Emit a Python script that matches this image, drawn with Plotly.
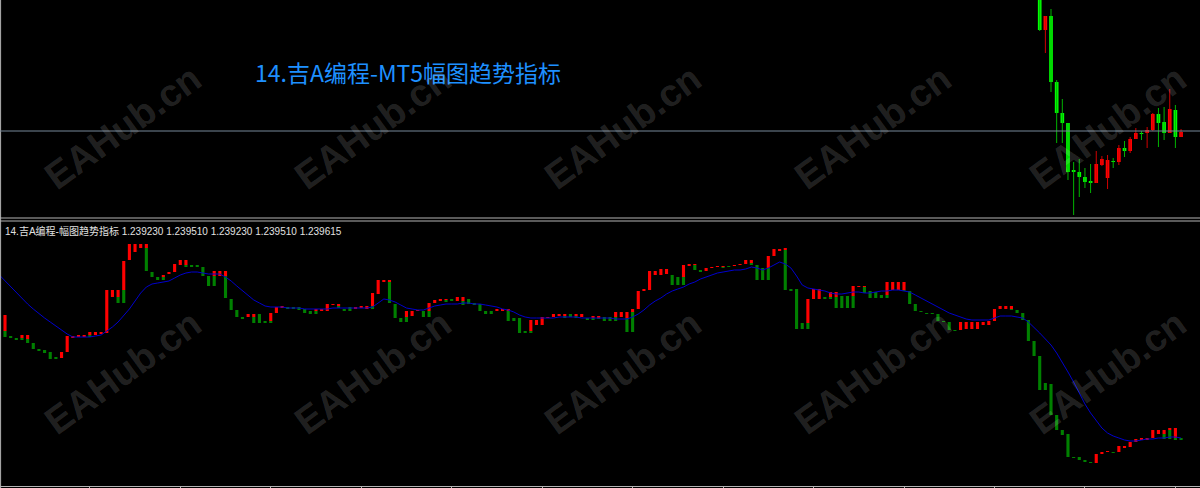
import plotly.graph_objects as go

# ---------------- indicator panel data (one value per bar) ----------------
ind_high = [185,185,164,162,165,165,157,151,150,148,
            143,148,164,164,165,165,168,168,168,210,
            210,210,239,256,256,256,256,228,223,225,
            228,236,240,240,235,235,233,224,229,229,
            229,201,190,183,186,186,186,179,187,193,
            194,193,193,193,191,189,191,191,196,196,
            196,191,193,193,194,194,207,220,220,220,
            196,182,189,189,190,189,197,200,201,201,
            201,203,203,201,197,196,189,189,191,191,
            191,182,182,169,180,180,183,183,186,186,
            186,186,186,186,182,184,184,183,183,188,
            188,188,191,209,211,229,229,231,231,225,
            223,235,236,236,230,232,233,234,234,234,
            235,236,240,240,235,232,244,251,251,252,
            211,211,177,201,211,211,203,208,208,204,
            204,214,214,214,209,208,205,218,218,218,
            218,209,196,189,187,187,186,179,178,170,
            178,178,178,178,178,179,191,194,194,194,
            190,187,180,159,144,117,116,85,70,66,
            43,43,40,38,46,48,49,48,54,54,
            58,61,62,62,70,70,70,72,72,62]

ind_mid = [185,169,164,162,162,161,157,151,150,148,
           143,142,148,162,163,163,165,165,166,167,
           203,203,210,240,248,252,252,228,223,223,
           226,228,235,235,235,235,233,224,224,224,
           224,201,190,183,183,183,186,179,179,187,
           192,193,193,193,191,189,189,189,189,195,
           194,191,193,191,192,191,194,206,218,218,
           196,182,183,184,189,189,189,197,199,200,
           201,199,199,201,197,196,189,189,189,189,
           189,182,182,169,169,175,175,182,183,184,
           184,186,184,183,182,182,182,183,183,183,
           183,182,188,191,209,210,225,225,226,225,
           223,223,234,235,230,229,232,233,233,234,
           234,235,236,237,235,232,232,244,249,250,
           211,211,177,177,201,201,203,203,203,204,
           204,204,213,213,209,208,205,205,210,210,
           210,209,196,189,187,187,186,179,178,170,
           170,171,171,171,175,175,179,191,191,191,
           190,187,180,159,144,117,116,85,70,66,
           43,43,40,38,37,46,48,48,48,52,
           53,58,60,60,62,66,66,70,62,62]

ind_low = [169,163,162,160,160,157,151,149,147,141,
           141,142,148,162,163,163,163,165,166,167,
           203,197,197,240,248,252,229,223,220,220,
           226,228,235,233,233,233,224,214,214,224,
           202,190,183,181,183,177,177,177,177,187,
           192,191,191,190,187,186,186,189,189,195,
           192,189,189,191,192,191,191,206,218,197,
           182,178,178,184,189,183,183,197,199,198,
           199,199,195,196,195,189,186,186,189,189,
           179,179,167,167,167,175,175,182,183,184,
           182,183,182,183,180,180,181,179,179,179,
           183,168,168,191,209,210,225,225,226,215,
           215,215,234,230,228,229,232,233,232,233,
           234,235,236,235,220,220,220,244,249,210,
           209,171,171,171,201,201,201,201,192,192,
           192,192,213,207,202,202,202,202,210,210,
           209,196,189,188,186,186,179,178,170,169,
           170,171,171,171,175,175,179,191,191,190,
           187,180,159,144,110,110,85,70,65,43,
           42,40,38,37,37,46,48,47,48,52,
           53,58,60,60,62,66,61,61,60,60]

ind_ma = [225,219,213,207,201,196,191,186,182,178,
          174,170,166,163,163,163,163,164,165,169,
          173,178,184,191,199,207,213,216,217,218,
          219,222,225,227,228,228,227,226,226,226,
          223,219,214,209,204,200,197,194,193,193,
          193,192,192,192,191,191,191,191,191,192,
          192,192,192,192,192,192,193,197,201,200,
          198,195,192,191,190,190,192,194,195,196,
          196,196,197,197,196,196,195,194,193,191,
          190,188,185,183,182,182,182,182,182,183,
          183,183,183,182,182,182,182,182,182,181,
          181,181,183,186,190,195,199,202,206,209,
          211,213,216,218,221,223,225,227,228,229,
          230,230,231,233,232,230,232,235,238,236,
          232,224,215,212,211,210,209,207,206,206,
          207,208,208,207,207,208,209,209,210,210,
          209,208,205,202,199,196,193,190,187,185,
          183,181,180,180,180,180,182,184,184,184,
          183,182,178,173,167,161,155,147,138,128,
          118,107,96,87,79,72,67,64,62,60,
          59,59,60,61,61,62,62,63,63,62]

# ---------------- main chart candles (last bars visible) ----------------
main_start = 184
main_open  = [308,270,284,218,187,177,130,128,123,119,117,135,122,139,138,152,149,161,167,167,170,186,178,167,190,163]
main_high  = [312,284,291,220,201,177,138,141,132,136,149,144,145,142,155,159,163,172,169,173,187,192,193,211,195,171]
main_low   = [269,247,208,157,157,120,85,103,112,107,117,134,111,132,135,143,147,161,160,152,169,153,160,167,152,163]
main_close = [270,284,218,187,177,128,128,123,118,117,136,141,140,138,152,149,161,167,166,170,186,177,167,191,163,168]
price_line = 169

title_text = "14.吉A编程-MT5幅图趋势指标"
ind_label = "14.吉A编程-幅图趋势指标 1.239230 1.239510 1.239230 1.239510 1.239615"
watermark = "EAHub.cn"
time_ticks = list(range(16, 210, 16))

# ---------------- build figure ----------------
N = len(ind_high)
bars = list(range(N))
red_len = [(h - m) if h > m else None for h, m in zip(ind_high, ind_mid)]
green_len = [(m - l) if m > l else None for m, l in zip(ind_mid, ind_low)]

fig = go.Figure()
fig.add_trace(go.Bar(x=bars, y=green_len, base=ind_low, width=0.55,
                     marker=dict(color="#008000", line=dict(width=0)),
                     xaxis="x", yaxis="y", hoverinfo="skip"))
fig.add_trace(go.Bar(x=bars, y=red_len, base=ind_mid, width=0.55,
                     marker=dict(color="#ff0000", line=dict(width=0)),
                     xaxis="x", yaxis="y", hoverinfo="skip"))
fig.add_trace(go.Scatter(x=bars, y=ind_ma, mode="lines",
                         line=dict(color="#0000cd", width=1),
                         xaxis="x", yaxis="y", hoverinfo="skip"))

main_x = list(range(main_start, main_start + len(main_open)))
wx_up, wy_up, wx_dn, wy_dn = [], [], [], []
body_base, body_len, body_col = [], [], []
for x, o, h, l, c in zip(main_x, main_open, main_high, main_low, main_close):
    if c > o:
        wx_up += [x, x, None]; wy_up += [l, h, None]
        body_col.append("#ff0000")
    else:
        wx_dn += [x, x, None]; wy_dn += [l, h, None]
        body_col.append("#00ff00")
    body_base.append(min(o, c))
    body_len.append(max(abs(c - o), 1))

fig.add_trace(go.Scatter(x=wx_up, y=wy_up, mode="lines", line=dict(color="#d00000", width=1),
                         xaxis="x2", yaxis="y2", hoverinfo="skip"))
fig.add_trace(go.Scatter(x=wx_dn, y=wy_dn, mode="lines", line=dict(color="#00b400", width=1),
                         xaxis="x2", yaxis="y2", hoverinfo="skip"))
fig.add_trace(go.Bar(x=main_x, y=body_len, base=body_base, width=0.65,
                     marker=dict(color=body_col, line=dict(width=0)),
                     xaxis="x2", yaxis="y2", hoverinfo="skip"))

W, H = 1200, 488
grey = "#b4b4b4"
top_bottom = 1 - 218 / H
bot_top = 1 - 221 / H
bot_bottom = 1 - 485.5 / H

fig.update_layout(
    width=W, height=H, margin=dict(l=0, r=0, t=0, b=0),
    paper_bgcolor="black", plot_bgcolor="black",
    showlegend=False, barmode="overlay", hovermode=False,
    xaxis=dict(domain=[0, 1], range=[0.115, 212.35], anchor="y",
               showgrid=False, zeroline=False, showticklabels=False,
               showline=True, linecolor=grey, linewidth=1,
               ticks="outside", tickvals=time_ticks, ticklen=3, tickcolor=grey, tickwidth=1),
    yaxis=dict(domain=[bot_bottom, bot_top], range=[14.5, 279], visible=False),
    xaxis2=dict(domain=[0, 1], matches="x", anchor="y2", visible=False),
    yaxis2=dict(domain=[top_bottom, 1], range=[82, 300], visible=False),
)

shapes = [
    dict(type="line", xref="paper", yref="paper", x0=0.0005, x1=0.0005, y0=0, y1=1,
         line=dict(color=grey, width=1)),
    dict(type="line", xref="paper", yref="paper", x0=0, x1=1, y0=top_bottom, y1=top_bottom,
         line=dict(color=grey, width=1)),
    dict(type="line", xref="paper", yref="paper", x0=0, x1=1, y0=bot_top, y1=bot_top,
         line=dict(color=grey, width=1)),
    dict(type="line", xref="paper", yref="y2", x0=0, x1=1, y0=price_line, y1=price_line,
         line=dict(color="#778899", width=1)),
]
fig.update_layout(shapes=shapes)

ann = [
    dict(text=title_text, xref="paper", yref="paper", x=253 / W, y=1 - 72 / H,
         xanchor="left", yanchor="middle", showarrow=False,
         font=dict(family="Noto Sans CJK SC", size=23, color="#1e90ff")),
    dict(text=ind_label, xref="paper", yref="paper", x=3 / W, y=1 - 231 / H,
         xanchor="left", yanchor="middle", showarrow=False,
         font=dict(family="Liberation Sans, Noto Sans CJK SC", size=10, color="#e0e0e0")),
]
for cy in (127, 372):
    for cx in (123, 373, 623, 873, 1108):
        ann.append(dict(text=watermark, xref="paper", yref="paper", x=cx / W, y=1 - cy / H,
                        xanchor="center", yanchor="middle", showarrow=False, textangle=-36,
                        font=dict(family="Liberation Sans", size=38, weight="bold",
                                  color="rgba(255,255,255,0.15)")))
fig.update_layout(annotations=ann)

fig.write_html("out.html", config={"displayModeBar": False},
               post_script="document.body.style.margin='0';document.body.style.overflow='hidden';")
